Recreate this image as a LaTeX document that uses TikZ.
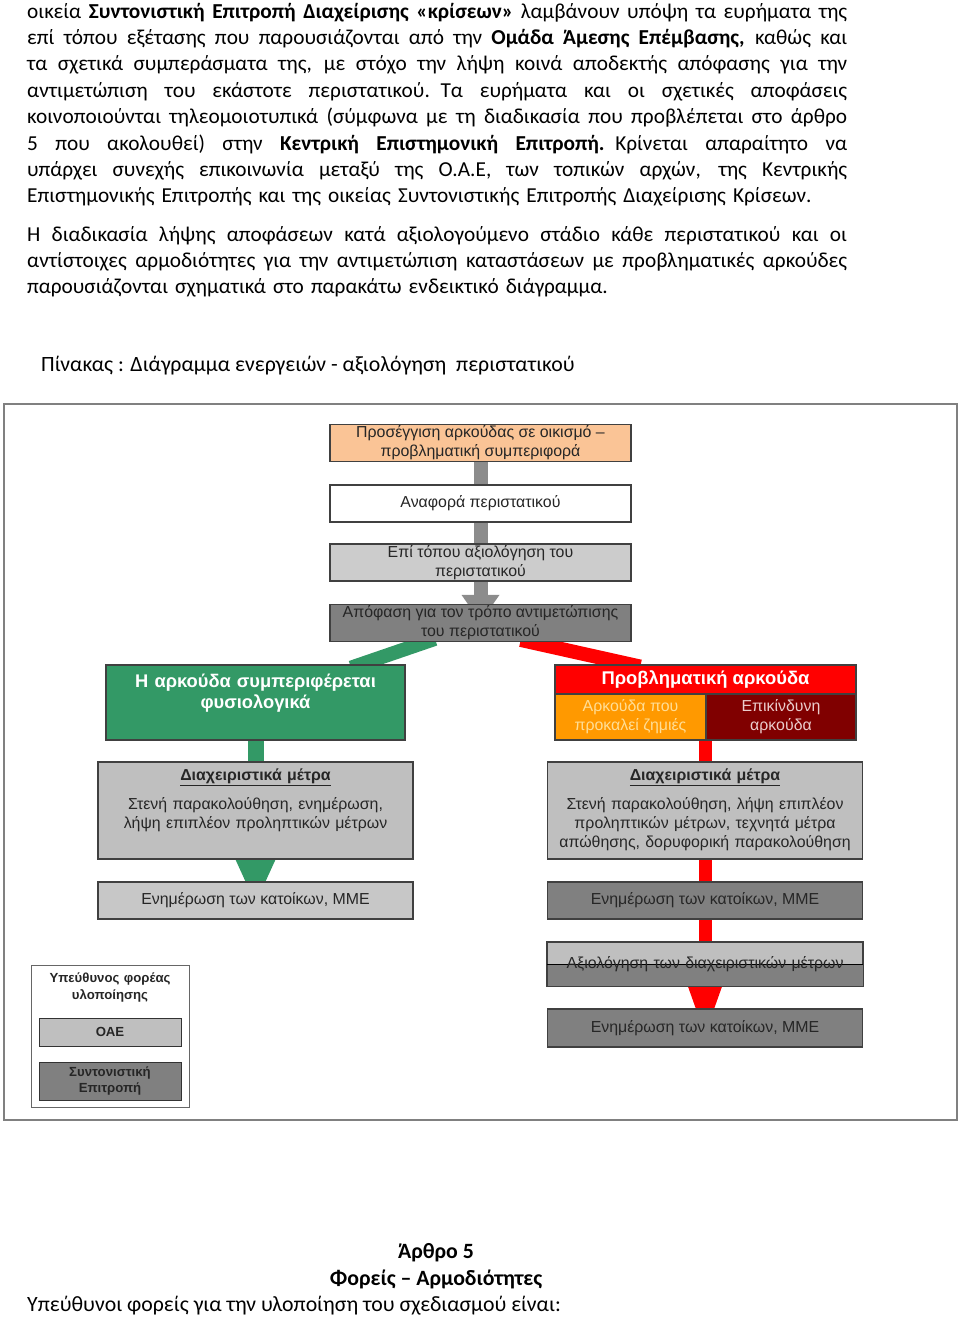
\documentclass[tikz,border=0pt]{standalone}
\usepackage{fontspec}
\setmainfont{Carlito}
\newfontfamily\arialfont[Ligatures=TeX]{Liberation Sans}
\usetikzlibrary{positioning,backgrounds,calc}
\definecolor{peach}{RGB}{250,196,150}
\definecolor{boxgreen}{RGB}{51,153,102}
\definecolor{boxorange}{RGB}{255,153,0}
\definecolor{boxdarkred}{RGB}{128,0,0}
\definecolor{paleyellow}{RGB}{255,222,150}
\definecolor{palerose}{RGB}{235,205,205}
\newcommand{\fullline}[1]{\leavevmode\hbox to 820pt{\spaceskip=\fontdimen2\font plus 1fil\relax #1}}

\begin{document}
\begin{tikzpicture}
[x=1pt, y=-1pt,
bodytext/.style={font=\fontsize{21.3}{26.4}\selectfont, inner sep=0pt, anchor=base west},
paratext/.style={bodytext, text width=820pt, align=left},
flowbox/.style={rectangle, draw=black!75, line width=1.2pt, minimum width=301pt, minimum height=37pt, inner sep=0pt, align=center, font=\arialfont\fontsize{15.9}{19}\selectfont, text=black!85},
peachbox/.style={flowbox, fill=peach},
whitebox/.style={flowbox, fill=white},
lightgraybox/.style={flowbox, fill=black!20},
darkgraybox/.style={flowbox, fill=black!50},
greenbox/.style={flowbox, fill=boxgreen, minimum width=299pt, minimum height=75pt},
redbox/.style={flowbox, fill=red, minimum height=29pt, text=white, font=\arialfont\bfseries\fontsize{18.4}{21}\selectfont},
orangebox/.style={flowbox, fill=boxorange, minimum width=151pt, minimum height=46pt, text=paleyellow},
darkredbox/.style={flowbox, fill=boxdarkred, minimum width=150pt, minimum height=46pt, text=palerose},
measbox/.style={flowbox, fill=black!25, minimum width=315pt, minimum height=97pt},
infobox/.style={flowbox, minimum width=315pt},
meastext/.style={font=\arialfont\fontsize{15.9}{19}\selectfont, text=black!85, inner sep=0pt, text width=310pt, align=center, anchor=base},
legendbox/.style={rectangle, draw=black!60, line width=1pt, fill=white, minimum width=158pt, minimum height=142pt},
smallbox/.style={rectangle, draw=black!80, line width=1pt, minimum width=142pt, inner sep=0pt, align=center, font=\arialfont\bfseries\fontsize{13.2}{16}\selectfont, text=black!85},
graystem/.style={draw=black!45, line width=14pt},
greenstem/.style={draw=boxgreen, line width=16pt},
redstem/.style={draw=red, line width=13pt},
band/.style={line width=14pt, shorten <=-10pt, shorten >=-10pt}
]
\useasboundingbox (0,0) rectangle (960,1320);

%text above
\node at (27,18) [paratext] (par1) {\fullline{οικεία \textbf{Συντονιστική Επιτροπή Διαχείρισης «κρίσεων»} λαμβάνουν υπόψη τα ευρήματα της}\\
\fullline{επί τόπου εξέτασης που παρουσιάζονται από την \textbf{Ομάδα Άμεσης Επέμβασης,} καθώς και}\\
\fullline{τα σχετικά συμπεράσματα της, με στόχο την λήψη κοινά αποδεκτής απόφασης για την}\\
\fullline{αντιμετώπιση του εκάστοτε περιστατικού. Τα ευρήματα και οι σχετικές αποφάσεις}\\
\fullline{κοινοποιούνται τηλεομοιοτυπικά (σύμφωνα με τη διαδικασία που προβλέπεται στο άρθρο}\\
\fullline{5 που ακολουθεί) στην \textbf{Κεντρική Επιστημονική Επιτροπή.} Κρίνεται απαραίτητο να}\\
\fullline{υπάρχει συνεχής επικοινωνία μεταξύ της Ο.Α.Ε, των τοπικών αρχών, της Κεντρικής}\\
Επιστημονικής Επιτροπής και της οικείας Συντονιστικής Επιτροπής Διαχείρισης Κρίσεων.};
\node at (27,241) [paratext] (par2) {\fullline{Η διαδικασία λήψης αποφάσεων κατά αξιολογούμενο στάδιο κάθε περιστατικού και οι}\\
\fullline{αντίστοιχες αρμοδιότητες για την αντιμετώπιση καταστάσεων με προβληματικές αρκούδες}\\
παρουσιάζονται σχηματικά στο παρακάτω ενδεικτικό διάγραμμα.};
\node at (41,371) [bodytext, font=\fontsize{21.8}{26.4}\selectfont] (caption) {Πίνακας : Διάγραμμα ενεργειών - αξιολόγηση\ \ περιστατικού};

%frame
\draw[black!50, line width=1.5pt] (4,404) rectangle (957,1120);

%top chain
\node at (480.5,443) [peachbox] (appr) {Προσέγγιση αρκούδας σε οικισμό –\\προβληματική συμπεριφορά};
\node at (480.5,503.5) [whitebox] (report) {Αναφορά περιστατικού};
\node at (480.5,562.5) [lightgraybox] (onsite) {Επί τόπου αξιολόγηση του\\περιστατικού};
\node at (480.5,623) [darkgraybox] (decide) {Απόφαση για τον τρόπο αντιμετώπισης\\του περιστατικού};

%green branch
\node at (255.5,702.5) [greenbox] (normal) {};
\node at ([yshift=-23pt]normal.north) [meastext, text=white, font=\arialfont\bfseries\fontsize{18.3}{21}\selectfont] (normaltext) {Η αρκούδα συμπεριφέρεται\\φυσιολογικά};
\node at (255.5,810.5) [measbox] (measL) {};
\node at ([yshift=-19pt]measL.north) [meastext] (measLtext) {\underline{\textbf{Διαχειριστικά μέτρα}}\\[10pt]Στενή παρακολούθηση, ενημέρωση,\\λήψη επιπλέον προληπτικών μέτρων};
\node at (255.5,900.5) [infobox, fill=black!22] (infoL) {Ενημέρωση των κατοίκων, ΜΜΕ};

%red branch
\node at (705.5,679.5) [redbox] (problem) {Προβληματική αρκούδα};
\node at (630.5,717) [orangebox] (damage) {Αρκούδα που\\προκαλεί ζημιές};
\node at (781,717) [darkredbox] (danger) {Επικίνδυνη\\αρκούδα};
\node at (705,810.5) [measbox] (measR) {};
\node at ([yshift=-19pt]measR.north) [meastext] (measRtext) {\underline{\textbf{Διαχειριστικά μέτρα}}\\[10pt]Στενή παρακολούθηση, λήψη επιπλέον\\προληπτικών μέτρων, τεχνητά μέτρα\\απώθησης, δορυφορική παρακολούθηση};
\node at (705,900.5) [infobox, fill=black!50] (infoR) {Ενημέρωση των κατοίκων, ΜΜΕ};
\node at (705,964) [infobox, fill=black!25, minimum height=44pt] (evalR) {};
\fill[black!50] (evalR.west) rectangle (evalR.south east);
\draw[black!75, line width=1.2pt] (evalR.north west) rectangle (evalR.south east);
\draw[black, line width=1pt] (evalR.west) -- (evalR.east);
\node at (evalR.center) [meastext, anchor=center] (evaltext) {Αξιολόγηση των διαχειριστικών μέτρων};
\node at (705,1028) [infobox, fill=black!50, minimum height=38pt] (infoR2) {Ενημέρωση των κατοίκων, ΜΜΕ};

%legend
\node at (110,1036) [legendbox] (legend) {};
\node at ([yshift=-18pt]legend.north) [meastext, text width=150pt, font=\arialfont\bfseries\fontsize{13.2}{17}\selectfont] (legendtitle) {Υπεύθυνος φορέας\\υλοποίησης};
\node at (110,1032) [smallbox, fill=black!25, minimum height=28pt] (oae) {ΟΑΕ};
\node at (110,1081) [smallbox, fill=black!50, minimum height=38pt] (coord) {Συντονιστική\\Επιτροπή};

%connectors
\begin{scope}[on background layer]
\draw[graystem] (appr) -- (report);
\draw[graystem] (report) -- (onsite);
\draw[graystem] (onsite) -- (decide);
\fill[black!45] ($(decide.north)+(-19,-9)$) -- ($(decide.north)+(19,-9)$) -- ($(decide.north)+(0,18)$) -- cycle;
\draw[band, draw=boxgreen] ([xshift=-55pt]decide.south) -- ([xshift=105pt]normal.north);
\draw[band, draw=red] ([xshift=50pt]decide.south) -- ([xshift=-75pt]problem.north);
\draw[greenstem] (normal) -- (measL);
\fill[boxgreen] ($(measL.south)+(-20,0)$) -- ($(measL.south)+(20,0)$) -- ($(infoL.north)+(0,22)$) -- cycle;
\draw[redstem] (measR.north |- danger.south) -- (measR.north);
\draw[redstem] (measR) -- (infoR);
\draw[redstem] (infoR) -- (evalR);
\fill[red] ($(evalR.south)+(-17,0)$) -- ($(evalR.south)+(17,0)$) -- ($(infoR2.north)+(0,26)$) -- cycle;
\end{scope}

%text below
\node at (436,1258) [bodytext, anchor=base, font=\bfseries\fontsize{21.8}{26.4}\selectfont] (article) {Άρθρο 5};
\node at (436,1285) [bodytext, anchor=base, font=\bfseries\fontsize{21.8}{26.4}\selectfont] (heading) {Φορείς – Αρμοδιότητες};
\node at (27,1311) [bodytext, font=\fontsize{21.8}{26.4}\selectfont] (lastline) {Υπεύθυνοι φορείς για την υλοποίηση του σχεδιασμού είναι:};
\end{tikzpicture}
\end{document}
